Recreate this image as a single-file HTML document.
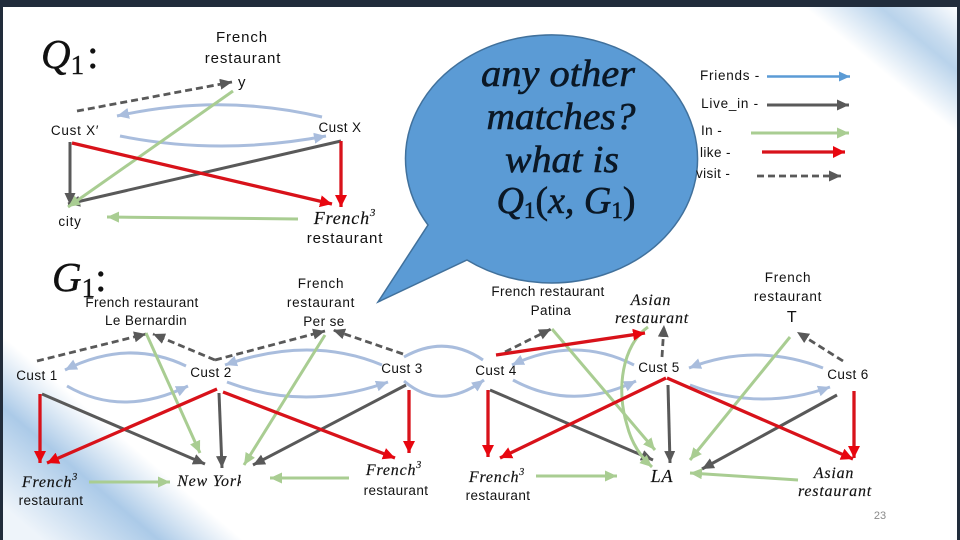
<!DOCTYPE html>
<html><head><meta charset="utf-8"><style>
html,body{margin:0;padding:0;background:#fff}
svg{display:block}
text{font-family:"Liberation Sans",sans-serif;font-size:13.5px;fill:#111;text-anchor:middle;letter-spacing:.4px}
.w{font-size:15px;letter-spacing:.9px}
.k{letter-spacing:.75px}
.m{font-family:"Liberation Serif",serif;font-style:italic;font-size:16px;letter-spacing:.8px;stroke:#111;stroke-width:.15}
.b{font-family:"Liberation Serif",serif;font-style:italic;font-size:38px;fill:#0b1826;letter-spacing:0;stroke:#0b1826;stroke-width:.6}
.h{font-family:"Liberation Serif",serif;font-style:italic;font-size:41px;text-anchor:start;letter-spacing:0;stroke:#111;stroke-width:.4}
.s{font-size:27px;font-style:normal}
.g{stroke:#595959;stroke-width:3;fill:none;marker-end:url(#ag)}
.d{stroke:#595959;stroke-width:2.8;fill:none;stroke-dasharray:7 4;marker-end:url(#ag)}
.r{stroke:#d8121a;stroke-width:3.3;fill:none;marker-end:url(#ar)}
.l{stroke:#a9cd92;stroke-width:3;fill:none;marker-end:url(#al)}
.f{stroke:#a9bddd;stroke-width:3;fill:none;marker-end:url(#af)}
</style></head><body>
<svg width="960" height="540" viewBox="0 0 960 540" xmlns="http://www.w3.org/2000/svg">
<defs>
<linearGradient id="g1" gradientUnits="userSpaceOnUse" x1="882" y1="71" x2="943" y2="-3">
<stop offset="0" stop-color="#fff"/><stop offset=".5" stop-color="#b9d3eb"/><stop offset=".65" stop-color="#c8dcef"/><stop offset="1" stop-color="#fafcfe"/></linearGradient>
<linearGradient id="g2" gradientUnits="userSpaceOnUse" x1="123" y1="438" x2="39" y2="537">
<stop offset="0" stop-color="#b4cfe9" stop-opacity="0"/><stop offset=".42" stop-color="#abcae8"/><stop offset="1" stop-color="#eef4fa"/></linearGradient>
<marker id="ag" markerUnits="userSpaceOnUse" markerWidth="12" markerHeight="11" viewBox="0 0 12 11" refX="12" refY="5.5" orient="auto"><path d="M0 0L12 5.5L0 11z" fill="#595959"/></marker>
<marker id="ar" markerUnits="userSpaceOnUse" markerWidth="12" markerHeight="12" viewBox="0 0 12 12" refX="12" refY="6" orient="auto"><path d="M0 0L12 6L0 12z" fill="#e8060f"/></marker>
<marker id="al" markerUnits="userSpaceOnUse" markerWidth="12" markerHeight="11" viewBox="0 0 12 11" refX="12" refY="5.5" orient="auto"><path d="M0 0L12 5.5L0 11z" fill="#a9cd92"/></marker>
<marker id="af" markerUnits="userSpaceOnUse" markerWidth="12" markerHeight="11" viewBox="0 0 12 11" refX="12" refY="5.5" orient="auto"><path d="M0 0L12 5.5L0 11z" fill="#a9bddd"/></marker>
<marker id="ab" markerUnits="userSpaceOnUse" markerWidth="11" markerHeight="10" viewBox="0 0 11 10" refX="11" refY="5" orient="auto"><path d="M0 0L11 5L0 10z" fill="#5b9bd5"/></marker>
<clipPath id="c1"><rect x="290" y="200" width="110" height="44"/></clipPath>
<clipPath id="c2"><rect x="170" y="465" width="71" height="30"/></clipPath>
</defs>
<rect width="960" height="540" fill="#fff"/>
<rect width="960" height="540" fill="url(#g1)"/>
<rect width="960" height="540" fill="url(#g2)"/>
<rect x="0" y="0" width="960" height="7" fill="#212c3b"/>
<rect x="0" y="0" width="3" height="540" fill="#212c3b"/>
<rect x="957" y="0" width="3" height="540" fill="#212c3b"/>

<!-- Q1 -->
<text class="h" x="41" y="68">Q<tspan class="s" dy="6">1</tspan><tspan dy="-6" font-style="normal" dx="3">:</tspan></text>
<text class="w" x="242" y="42">French</text><text class="w" x="243" y="63">restaurant</text><text x="242" y="87" style="font-size:15px">y</text>
<text class="k" x="75" y="135">Cust X′</text><text x="340" y="132">Cust X</text><text class="k" x="70" y="226">city</text>
<text class="m" x="345" y="224" style="font-size:18px">French<tspan font-size="11" dy="-8">3</tspan></text>
<text class="w" x="345" y="243" clip-path="url(#c1)">restaurant</text>
<path class="d" d="M77 111L232 82"/>
<path class="f" d="M322 117Q220 93 117 116"/>
<path class="f" d="M120 136Q220 156 326 136"/>
<path class="g" d="M70 142V205"/>
<path class="g" d="M341 141L68 204"/>
<path class="l" d="M233 91L68 207"/>
<path class="r" d="M72 143L332 204"/>
<path class="r" d="M341 141V207"/>
<path class="l" d="M298 219L107 217"/>

<!-- Bubble -->
<path d="M428 225A146 124 0 1 1 467 260L378 302Z" fill="#5b9bd5" stroke="#41719c" stroke-width="1.5"/>
<text class="b" x="558" y="86" textLength="154" lengthAdjust="spacingAndGlyphs">any other</text>
<text class="b" x="561" y="129" textLength="149" lengthAdjust="spacingAndGlyphs">matches?</text>
<text class="b" x="562" y="172" textLength="114" lengthAdjust="spacingAndGlyphs">what is</text>
<text class="b" x="566" y="213">Q<tspan font-size="23" font-style="normal" dy="5">1</tspan><tspan dy="-5" font-style="normal">(</tspan>x, G<tspan font-size="23" font-style="normal" dy="5">1</tspan><tspan dy="-5" font-style="normal">)</tspan></text>

<!-- Legend -->
<text class="k" x="730" y="80">Friends -</text><text class="k" x="730" y="108">Live_in -</text>
<text x="701" y="135" style="text-anchor:start">In -</text>
<text x="700" y="157" style="text-anchor:start">like -</text>
<text x="696" y="178" style="text-anchor:start">visit  -</text>
<path d="M767 76.5H850" stroke="#5b9bd5" stroke-width="2.4" marker-end="url(#ab)" fill="none"/>
<path class="g" d="M767 105H849"/>
<path class="l" d="M751 133H849"/>
<path class="r" d="M762 152H845"/>
<path class="d" d="M757 176H841"/>

<!-- G1 -->
<text class="h" x="52" y="291">G<tspan class="s" dy="6">1</tspan><tspan dy="-6" font-style="normal">:</tspan></text>
<text x="142" y="307">French restaurant</text><text x="146" y="325">Le Bernardin</text>
<text class="k" x="321" y="288">French</text><text class="k" x="321" y="307">restaurant</text><text x="324" y="326">Per se</text>
<text x="548" y="296">French restaurant</text><text x="551" y="315">Patina</text>
<text class="m" x="651" y="305" font-size="15">Asian</text><text class="m" x="652" y="323" font-size="15">restaurant</text>
<text class="k" x="788" y="282">French</text><text class="k" x="788" y="301">restaurant</text><text x="792" y="322" style="font-size:16px">T</text>
<text x="37" y="380">Cust 1</text><text x="211" y="377">Cust 2</text><text x="402" y="373">Cust 3</text>
<text x="496" y="375">Cust 4</text><text x="659" y="372">Cust 5</text><text x="848" y="379">Cust 6</text>

<path class="d" d="M37 361L146 334"/>
<path class="d" d="M215 360L153 334"/>
<path class="d" d="M215 360L325 331"/>
<path class="d" d="M403 354L333 330"/>
<path class="d" d="M505 352L551 329"/>
<path class="d" d="M662 357L664 325"/>
<path class="d" d="M843 361L797 332"/>

<path class="f" d="M186 366Q128 338 65 370"/>
<path class="f" d="M67 386Q122 418 188 386"/>
<path class="f" d="M382 365Q310 335 225 365"/>
<path class="f" d="M227 382Q305 412 388 382"/>
<path d="M404 357Q445 334 483 360" stroke="#a9bddd" stroke-width="3" fill="none"/>
<path class="f" d="M404 381Q440 412 484 380"/>
<path class="f" d="M634 365Q575 335 512 365"/>
<path class="f" d="M513 380Q572 412 636 381"/>
<path class="f" d="M823 368Q755 342 689 368"/>
<path class="f" d="M690 385Q760 412 830 387"/>

<path class="g" d="M42 394L205 464"/>
<path class="g" d="M219 393L222 468"/>
<path class="g" d="M406 385L253 465"/>
<path class="g" d="M490 390L653 460"/>
<path class="g" d="M668 385L670 463"/>
<path class="g" d="M837 395L702 469"/>

<path class="l" d="M146 333L200 453"/>
<path class="l" d="M325 335L244 465"/>
<path class="l" d="M349 478H270"/>
<path class="l" d="M89 482H170"/>
<path class="l" d="M552 329L655 450"/>
<path class="l" d="M648 327C622 345 616 390 627 425C632 445 642 458 652 467"/>
<path class="l" d="M790 337L690 460"/>
<path class="l" d="M798 480L690 473"/>
<path class="l" d="M536 476H617"/>

<path class="r" d="M40 394V463"/>
<path class="r" d="M217 389L47 463"/>
<path class="r" d="M223 392L395 458"/>
<path class="r" d="M409 390V453"/>
<path class="r" d="M496 355L645 333"/>
<path class="r" d="M488 390V457"/>
<path class="r" d="M666 378L500 458"/>
<path class="r" d="M667 378L853 459"/>
<path class="r" d="M854 391V458"/>

<text class="m" x="50" y="487">French<tspan font-size="10" dy="-7">3</tspan></text>
<text x="51" y="505">restaurant</text>
<text class="m" x="211" y="486" clip-path="url(#c2)">New York</text>
<text class="m" x="394" y="475">French<tspan font-size="10" dy="-7">3</tspan></text>
<text x="396" y="495">restaurant</text>
<text class="m" x="497" y="482">French<tspan font-size="10" dy="-7">3</tspan></text>
<text x="498" y="500">restaurant</text>
<text class="m" x="662" y="482" style="font-size:18px">LA</text>
<text class="m" x="834" y="478">Asian</text>
<text class="m" x="835" y="496">restaurant</text>
<text x="880" y="519" style="font-size:11px;fill:#8a8a8a;letter-spacing:0">23</text>
</svg>
</body></html>
